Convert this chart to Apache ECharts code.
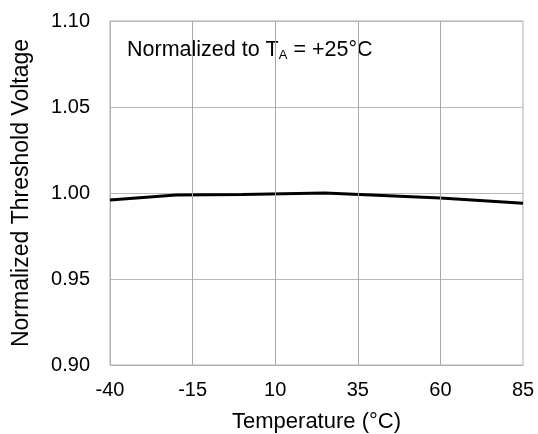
<!DOCTYPE html>
<html>
<head>
<meta charset="utf-8">
<script src="https://cdn.jsdelivr.net/npm/echarts@6/dist/echarts.min.js"></script>
<style>html,body{margin:0;padding:0;background:#fff}#c{width:538px;height:434px}</style>
</head>
<body>
<div id="c"></div>
<script>
var temperatures = [-40, -20, 0, 25, 60, 85];
var thresholdValues = [0.9959, 0.9988, 0.9991, 1.0000, 0.9971, 0.9940];
var xTicks = [-40, -15, 10, 35, 60, 85];
var yTicks = [0.90, 0.95, 1.00, 1.05, 1.10];

var chart = echarts.init(document.getElementById('c'), null, {renderer: 'canvas'});
var font = 'Liberation Sans, Arial, sans-serif';
chart.setOption({
  animation: false,
  backgroundColor: '#fff',
  grid: {left: 110, right: 15, top: 21, bottom: 69, outerBoundsMode: 'none', containLabel: false,
    show: true, borderColor: '#b0b0b0', borderWidth: 1, backgroundColor: 'transparent'},
  xAxis: {
    type: 'value', min: xTicks[0], max: xTicks[xTicks.length - 1],
    name: 'Temperature (°C)', nameLocation: 'middle', nameGap: 46,
    nameTextStyle: {fontFamily: font, fontSize: 22, color: '#000'},
    axisLine: {show: true, onZero: false, lineStyle: {color: '#b0b0b0', width: 1}},
    axisTick: {show: false, customValues: xTicks},
    axisLabel: {fontFamily: font, fontSize: 20, color: '#000', margin: 15, customValues: xTicks},
    splitLine: {show: false}
  },
  yAxis: {
    type: 'value', min: yTicks[0], max: yTicks[yTicks.length - 1], interval: 0.05,
    name: 'Normalized Threshold Voltage', nameLocation: 'middle', nameGap: 77,
    nameTextStyle: {fontFamily: font, fontSize: 23, color: '#000'},
    axisLine: {show: true, onZero: false, lineStyle: {color: '#b0b0b0', width: 1}},
    axisTick: {show: false},
    axisLabel: {fontFamily: font, fontSize: 20, color: '#000', margin: 20,
      formatter: function (v) { return v.toFixed(2); }},
    splitLine: {show: true, lineStyle: {color: '#b8b8b8', width: 1}}
  },
  graphic: [{
    type: 'text', left: 127, top: 39,
    style: {
      text: '{n|Normalized to T}{s|A}{n| = +25°C}',
      rich: {
        n: {fontFamily: font, fontSize: 21.5, fill: '#000'},
        s: {fontFamily: font, fontSize: 13, fill: '#000', padding: [11, 0, 0, 0]}
      }
    }
  }],
  series: [{
    type: 'line', data: [], z: 1, silent: true,
    markLine: {
      silent: true, symbol: ['none', 'none'], label: {show: false},
      lineStyle: {color: '#a8a8a8', width: 1, type: 'solid'},
      emphasis: {disabled: true},
      data: xTicks.slice(1, -1).map(function (v) { return {xAxis: v}; })
    }
  }, {
    type: 'line', z: 3,
    data: temperatures.map(function (t, i) { return [t, thresholdValues[i]]; }),
    showSymbol: false, symbol: 'none',
    lineStyle: {color: '#000', width: 3},
    smooth: false
  }]
});
</script>
</body>
</html>
